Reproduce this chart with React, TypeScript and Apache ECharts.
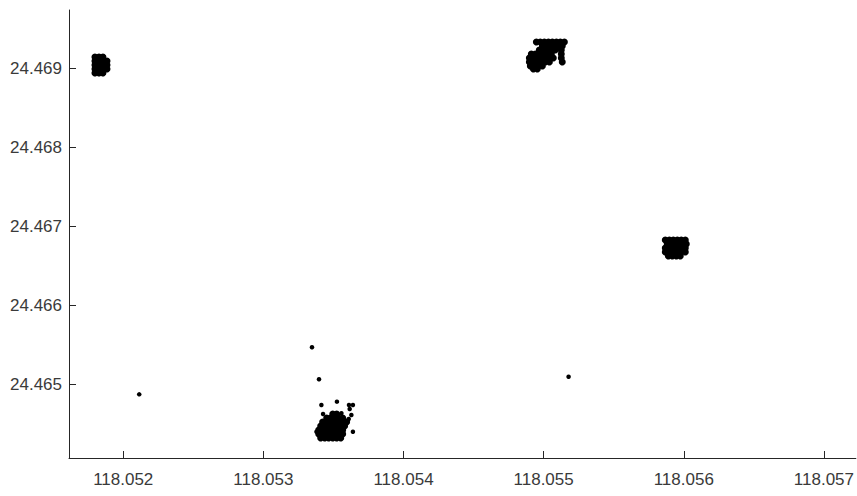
import React, { useEffect, useRef } from "react";
import * as echarts from "echarts";

// Tick values
const xTicks = [118.052, 118.053, 118.054, 118.055, 118.056, 118.057];
const yTicks = [24.465, 24.466, 24.467, 24.468, 24.469];

// Cluster A (upper left)
const clusterA: number[][] = [
  [118.051798, 24.469143], [118.051827, 24.469143], [118.051855, 24.469143],
  [118.051798, 24.469092], [118.051827, 24.469092], [118.051855, 24.469092], [118.051884, 24.469092],
  [118.051798, 24.469042], [118.051827, 24.469042], [118.051855, 24.469042], [118.051884, 24.469042],
  [118.051798, 24.468991], [118.051827, 24.468991], [118.051855, 24.468991], [118.051884, 24.468991],
  [118.051798, 24.468941], [118.051827, 24.468941], [118.051855, 24.468941],
];

// Cluster B (upper middle)
const clusterB: number[][] = [
  [118.054948, 24.469333], [118.054976, 24.469333], [118.055005, 24.469333], [118.055034, 24.469333],
  [118.055062, 24.469333], [118.055091, 24.469333], [118.055119, 24.469333], [118.055148, 24.469333],
  [118.054991, 24.469282], [118.055019, 24.469282], [118.055048, 24.469282], [118.055076, 24.469282],
  [118.055105, 24.469282], [118.055133, 24.469282],
  [118.054969, 24.469232], [118.054998, 24.469232], [118.055026, 24.469232], [118.055055, 24.469232],
  [118.055083, 24.469232], [118.055126, 24.469232],
  [118.054912, 24.469181], [118.054941, 24.469181], [118.054969, 24.469181], [118.054998, 24.469181],
  [118.055026, 24.469181], [118.055055, 24.469181], [118.055126, 24.469181],
  [118.054898, 24.469130], [118.054927, 24.469130], [118.054955, 24.469130], [118.054984, 24.469130],
  [118.055012, 24.469130], [118.055041, 24.469130], [118.055069, 24.469130], [118.055126, 24.469130],
  [118.054898, 24.469080], [118.054927, 24.469080], [118.054955, 24.469080], [118.054984, 24.469080],
  [118.055012, 24.469080], [118.055041, 24.469080], [118.055133, 24.469080],
  [118.054905, 24.469029], [118.054934, 24.469029], [118.054962, 24.469029], [118.054991, 24.469029],
  [118.054927, 24.468991], [118.054955, 24.468991],
];

// Cluster C (right)
const clusterC: number[][] = [
  [118.055868, 24.466827], [118.055897, 24.466827], [118.055925, 24.466827], [118.055954, 24.466827],
  [118.055982, 24.466827], [118.056011, 24.466827],
  [118.055882, 24.466776], [118.055911, 24.466776], [118.055939, 24.466776], [118.055968, 24.466776],
  [118.055996, 24.466776], [118.056018, 24.466776],
  [118.055868, 24.466725], [118.055897, 24.466725], [118.055925, 24.466725], [118.055954, 24.466725],
  [118.055982, 24.466725], [118.056011, 24.466725],
  [118.055868, 24.466675], [118.055897, 24.466675], [118.055925, 24.466675], [118.055954, 24.466675],
  [118.055982, 24.466675], [118.056011, 24.466675],
  [118.055890, 24.466624], [118.055918, 24.466624], [118.055947, 24.466624], [118.055975, 24.466624],
];

// Cluster D (bottom)
const clusterD: number[][] = [
  [118.053495, 24.464624], [118.053523, 24.464624],
  [118.053452, 24.464573], [118.053480, 24.464573], [118.053509, 24.464573], [118.053537, 24.464573],
  [118.053566, 24.464573],
  [118.053423, 24.464523], [118.053452, 24.464523], [118.053480, 24.464523], [118.053509, 24.464523],
  [118.053537, 24.464523], [118.053566, 24.464523], [118.053594, 24.464523],
  [118.053409, 24.464472], [118.053438, 24.464472], [118.053466, 24.464472], [118.053495, 24.464472],
  [118.053523, 24.464472], [118.053552, 24.464472], [118.053580, 24.464472],
  [118.053395, 24.464422], [118.053423, 24.464422], [118.053452, 24.464422], [118.053480, 24.464422],
  [118.053509, 24.464422], [118.053537, 24.464422], [118.053566, 24.464422],
  [118.053395, 24.464371], [118.053423, 24.464371], [118.053452, 24.464371], [118.053480, 24.464371],
  [118.053509, 24.464371], [118.053537, 24.464371], [118.053566, 24.464371],
  [118.053409, 24.464320], [118.053438, 24.464320], [118.053466, 24.464320], [118.053495, 24.464320],
  [118.053523, 24.464320], [118.053552, 24.464320],
];

// Sparse points
const sparse: number[][] = [
  [118.052114, 24.464873],
  [118.055178, 24.465096],
  [118.053347, 24.465468],
  [118.053397, 24.465063],
  [118.053414, 24.464738],
  [118.053525, 24.46478],
  [118.053426, 24.464624],
  [118.053611, 24.464738],
  [118.053639, 24.464738],
  [118.053628, 24.464611],
  [118.053557, 24.464633],
  [118.053379, 24.4644],
  [118.053639, 24.4644],
  [118.053592, 24.46451],
  [118.053616, 24.464687],
  [118.053609, 24.464561],
];

const FONT = "'Liberation Sans', Arial, sans-serif";

export default function App() {
  const ref = useRef<HTMLDivElement>(null);
  useEffect(() => {
    document.body.style.margin = "0";
    const chart = echarts.init(ref.current!, null, { renderer: "svg" });
    const axisCommon = {
      axisLine: { show: true, lineStyle: { color: "#262626", width: 1 } },
      axisTick: { show: true, inside: true, length: 7, lineStyle: { color: "#262626" } },
      splitLine: { show: false },
    };
    chart.setOption({
      animation: false,
      backgroundColor: "#ffffff",
      grid: { left: 69, top: 10, right: 0, bottom: 38, containLabel: false },
      xAxis: {
        type: "value",
        min: 118.051613,
        max: 118.057228,
        ...axisCommon,
        axisTick: { ...axisCommon.axisTick, customValues: xTicks },
        axisLabel: {
          customValues: xTicks,
          formatter: (v: number) => v.toFixed(3),
          color: "#3a3a3a",
          fontFamily: FONT,
          fontSize: 17,
          margin: 13,
        },
      },
      yAxis: {
        type: "value",
        min: 24.464067,
        max: 24.469738,
        ...axisCommon,
        axisTick: { ...axisCommon.axisTick, customValues: yTicks },
        axisLabel: {
          customValues: yTicks,
          formatter: (v: number) => v.toFixed(3),
          color: "#3a3a3a",
          fontFamily: FONT,
          fontSize: 17,
          margin: 7,
        },
      },
      series: [
        {
          name: "clusters",
          type: "scatter",
          symbol: "circle",
          symbolSize: 7,
          itemStyle: { color: "#000000", opacity: 1 },
          data: [...clusterA, ...clusterB, ...clusterC, ...clusterD],
        },
        {
          name: "sparse",
          type: "scatter",
          symbol: "circle",
          symbolSize: 4.5,
          itemStyle: { color: "#000000", opacity: 1 },
          data: sparse,
        },
      ],
    });
    return () => chart.dispose();
  }, []);
  return (
    <div
      ref={ref}
      style={{ position: "fixed", left: 0, top: 0, width: 857, height: 496 }}
    />
  );
}
